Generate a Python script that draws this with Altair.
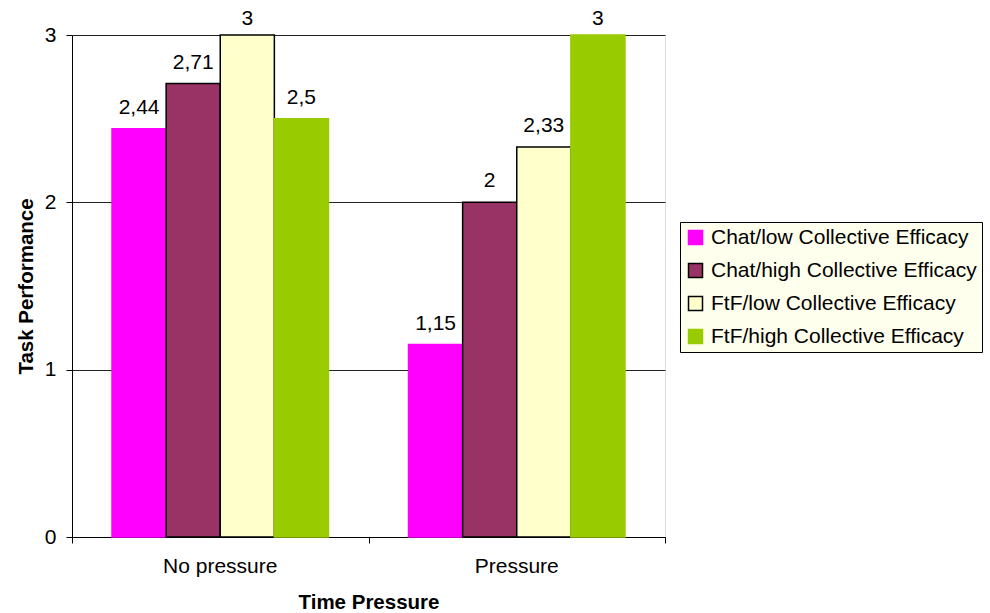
import altair as alt
import pandas as pd

categories = ["No pressure", "Pressure"]
series = ["Chat/low Collective Efficacy", "Chat/high Collective Efficacy",
          "FtF/low Collective Efficacy", "FtF/high Collective Efficacy"]
values = {
    "No pressure": [2.44, 2.71, 3.0, 2.5],
    "Pressure": [1.15, 2.0, 2.33, 3.0],
}
labels = {
    "No pressure": ["2,44", "2,71", "3", "2,5"],
    "Pressure": ["1,15", "2", "2,33", "3"],
}
fills = ["#ff00ff", "#993366", "#ffffcc", "#99cc00"]
strokes = ["#ff00ff", "#000000", "#000000", "#99cc00"]

rows = []
for c in categories:
    for i, s in enumerate(series):
        rows.append({"cat": c, "series": s, "order": i,
                     "value": values[c][i], "label": labels[c][i]})
df = pd.DataFrame(rows)

FONT = "Liberation Sans"
FS = 21
TFS = 20.5

x = alt.X("cat:N", sort=categories, title="Time Pressure",
          scale=alt.Scale(paddingInner=0.27, paddingOuter=0.135),
          axis=alt.Axis(orient="bottom", labelAngle=0, labelFontSize=FS, labelFont=FONT,
                        labelColor="#000", labelPadding=18, ticks=False, domainColor="#000",
                        titleFont=FONT, titleFontSize=TFS, titleFontWeight="bold",
                        titleColor="#000", titlePadding=16))
xo = alt.XOffset("series:N", sort=series, scale=alt.Scale(paddingInner=0, paddingOuter=0))
y = alt.Y("value:Q", title="Task Performance",
          scale=alt.Scale(domain=[0, 3], nice=False),
          axis=alt.Axis(values=[0, 1, 2, 3], labelFontSize=FS, labelFont=FONT, labelColor="#000",
                        labelPadding=10, tickSize=6, tickColor="#000", domainColor="#000",
                        gridColor="#222", gridWidth=1,
                        titleFont=FONT, titleFontSize=TFS, titleFontWeight="bold",
                        titleColor="#000", titlePadding=8))

bars = alt.Chart(df).mark_bar(strokeWidth=1.5).encode(
    x=x, xOffset=xo, y=y,
    fill=alt.Fill("series:N", sort=series, title=None,
                  scale=alt.Scale(domain=series, range=fills),
                  legend=alt.Legend(orient="none", legendX=608, legendY=187,
                                    labelFont=FONT, labelFontSize=FS, labelColor="#000",
                                    symbolType="square", symbolSize=196,
                                    symbolStrokeWidth=1.5, labelOffset=5,
                                    rowPadding=11, padding=5,
                                    strokeColor="#000", fillColor="#ffffee",
                                    labelLimit=400)),
    stroke=alt.Stroke("series:N", sort=series, title=None,
                      scale=alt.Scale(domain=series, range=strokes)),
)

text_low = alt.Chart(df).transform_filter("datum.value < 3").mark_text(
    baseline="alphabetic", dy=-15, fontSize=FS, font=FONT, color="#000").encode(
    x=x, xOffset=xo, y=y, text="label:N"
)
text_top = alt.Chart(df).transform_filter("datum.value >= 3").mark_text(
    baseline="alphabetic", dy=-10, fontSize=FS, font=FONT, color="#000").encode(
    x=x, xOffset=xo, y=y, text="label:N"
)

main = alt.layer(bars, text_low, text_top)

# separate category-boundary ticks on the x axis
tick_layer = alt.Chart(df).mark_bar(opacity=0).encode(
    x=alt.X("cat:N", sort=categories, title="",
            scale=alt.Scale(paddingInner=0, paddingOuter=0),
            axis=alt.Axis(orient="bottom", labels=False, domain=False, ticks=True,
                          tickBand="extent", tickSize=6, tickColor="#000", title="")),
    y=y,
)

chart = alt.layer(main, tick_layer).resolve_scale(x="independent").properties(
    width=593, height=502,
    autosize=alt.AutoSizeParams(type="none"),
    padding={"left": 72, "top": 35, "right": 325, "bottom": 76},
).configure_view(stroke=None).configure(background="#ffffff")

chart.save("out.html", embed_options={"renderer": "svg", "actions": False})
